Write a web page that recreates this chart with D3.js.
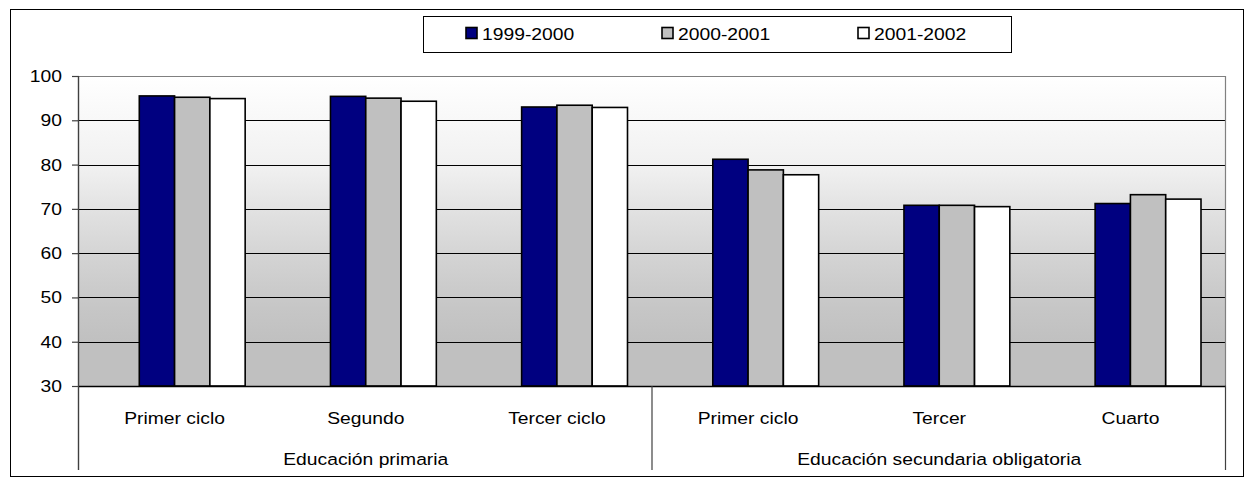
<!DOCTYPE html>
<html>
<head>
<meta charset="utf-8">
<script src="https://cdn.jsdelivr.net/npm/d3@7"></script>
<style>
  html, body { margin: 0; padding: 0; background: #fff; }
  svg { display: block; }
  text { font-family: "Liberation Sans", Arial, sans-serif; fill: #000; }
</style>
</head>
<body>
<svg id="chart" width="1254" height="486"></svg>
<script>
// Tasa de idoneidad por ciclo educativo y curso escolar
const categories = ["Primer ciclo", "Segundo", "Tercer ciclo", "Primer ciclo", "Tercer", "Cuarto"];
const groups = [
  { label: "Educación primaria", from: 0, to: 2 },
  { label: "Educación secundaria obligatoria", from: 3, to: 5 }
];
const series = ["1999-2000", "2000-2001", "2001-2002"];
const values1999 = [95.5, 95.4, 93.0, 81.2, 70.8, 71.2];
const values2000 = [95.2, 95.0, 93.4, 78.8, 70.8, 73.2];
const values2001 = [94.9, 94.3, 92.9, 77.7, 70.5, 72.2];
const yTicks = [30, 40, 50, 60, 70, 80, 90, 100];

const seriesValues = [values1999, values2000, values2001];
const seriesColors = ["#000080", "#c0c0c0", "#ffffff"];

const svg = d3.select("#chart");
const plot = { left: 79, right: 1226, top: 76, bottom: 386 };
const FONT = 16.5, STRETCH = 1.17;

// text helper: the labels are drawn slightly wide
function label(g, x, y, str, anchor) {
  return g.append("text")
    .attr("transform", `translate(${x},${y}) scale(${STRETCH},1)`)
    .attr("text-anchor", anchor || "start")
    .style("font-size", FONT + "px")
    .text(str);
}

// outer frame
svg.append("rect")
  .attr("x", 10.5).attr("y", 9.5).attr("width", 1233).attr("height", 467)
  .attr("fill", "#fff").attr("stroke", "#000").attr("stroke-width", 1);

// scales
const x0 = d3.scaleBand().domain(d3.range(categories.length))
  .range([plot.left, plot.right]).paddingInner(0).paddingOuter(0);
const bw = x0.bandwidth() * 0.1846;
const x1 = d3.scaleBand().domain(series)
  .range([x0.bandwidth() / 2 - bw, x0.bandwidth() / 2 + 2 * bw]);
const y = d3.scaleLinear().domain([30, 100]).range([plot.bottom, plot.top]);

// plot background gradient
const defs = svg.append("defs");
const grad = defs.append("linearGradient").attr("id", "bg")
  .attr("x1", 0).attr("y1", 0).attr("x2", 0).attr("y2", 1);
[[0, "#ffffff"], [0.3, "#f0f0f0"], [0.45, "#e0e0e0"], [0.6, "#d2d2d2"],
 [0.75, "#c6c6c6"], [0.86, "#c0c0c0"], [1, "#c0c0c0"]].forEach(([o, c]) =>
  grad.append("stop").attr("offset", o).attr("stop-color", c));

svg.append("rect")
  .attr("x", plot.left).attr("y", plot.top)
  .attr("width", plot.right - plot.left).attr("height", plot.bottom - plot.top)
  .attr("fill", "url(#bg)");

// gridlines
svg.append("g").selectAll("line")
  .data(yTicks.filter(t => t > 30 && t < 100))
  .join("line")
  .attr("x1", plot.left).attr("x2", plot.right)
  .attr("y1", d => Math.round(y(d)) + 0.5).attr("y2", d => Math.round(y(d)) + 0.5)
  .attr("stroke", "#000").attr("stroke-width", 1);

// plot border (top and right)
svg.append("path")
  .attr("d", `M${plot.left},${plot.top + 0.5}H${plot.right - 0.5}V${plot.bottom}`)
  .attr("fill", "none").attr("stroke", "#808080").attr("stroke-width", 1.2);

// bars
const gBars = svg.append("g");
seriesValues.forEach((vals, si) => {
  gBars.append("g").selectAll("rect")
    .data(vals)
    .join("rect")
    .attr("x", (d, i) => x0(i) + x1(series[si]))
    .attr("y", d => y(d))
    .attr("width", x1.bandwidth())
    .attr("height", d => y(30) - y(d))
    .attr("fill", seriesColors[si])
    .attr("stroke", "#000").attr("stroke-width", 1.6);
});

// y axis
const yAxis = svg.append("g")
  .attr("transform", `translate(${plot.left},0)`)
  .call(d3.axisLeft(y).tickValues(yTicks).tickSize(7).tickSizeOuter(0).tickFormat(d3.format("d")));
yAxis.select(".domain").remove();
yAxis.selectAll(".tick line").attr("stroke", "#404040").attr("stroke-width", 1.2);
yAxis.selectAll(".tick text").remove();
yTicks.forEach(t => label(svg, 62, y(t) + 6, String(t), "end"));

svg.append("line")
  .attr("x1", plot.left - 0.5).attr("x2", plot.left - 0.5)
  .attr("y1", plot.top).attr("y2", 470)
  .attr("stroke", "#404040").attr("stroke-width", 1.4);

// category axis
svg.append("line")
  .attr("x1", plot.left).attr("x2", plot.right)
  .attr("y1", plot.bottom + 0.5).attr("y2", plot.bottom + 0.5)
  .attr("stroke", "#000").attr("stroke-width", 1.4);

// group separators
groups.forEach(g => {
  const xr = x0(g.to) + x0.bandwidth();
  svg.append("line")
    .attr("x1", xr - 0.5).attr("x2", xr - 0.5)
    .attr("y1", plot.bottom).attr("y2", 470)
    .attr("stroke", "#404040").attr("stroke-width", 1.2);
});

// category labels
categories.forEach((c, i) => label(svg, x0(i) + x0.bandwidth() / 2, 424, c, "middle"));

// group labels
groups.forEach(g => {
  const cx = (x0(g.from) + x0(g.to) + x0.bandwidth()) / 2;
  label(svg, cx, 465, g.label, "middle");
});

// legend
const legend = svg.append("g");
legend.append("rect")
  .attr("x", 423.5).attr("y", 16.5).attr("width", 588).attr("height", 36)
  .attr("fill", "#fff").attr("stroke", "#000").attr("stroke-width", 1);
const legendX = d3.scalePoint().domain(series).range([466, 858]);
series.forEach((s, si) => {
  legend.append("rect")
    .attr("x", legendX(s)).attr("y", 27.5).attr("width", 11).attr("height", 11)
    .attr("fill", seriesColors[si]).attr("stroke", "#000").attr("stroke-width", 1.6);
  label(legend, legendX(s) + 16, 39.5, s, "start");
});
</script>
</body>
</html>
